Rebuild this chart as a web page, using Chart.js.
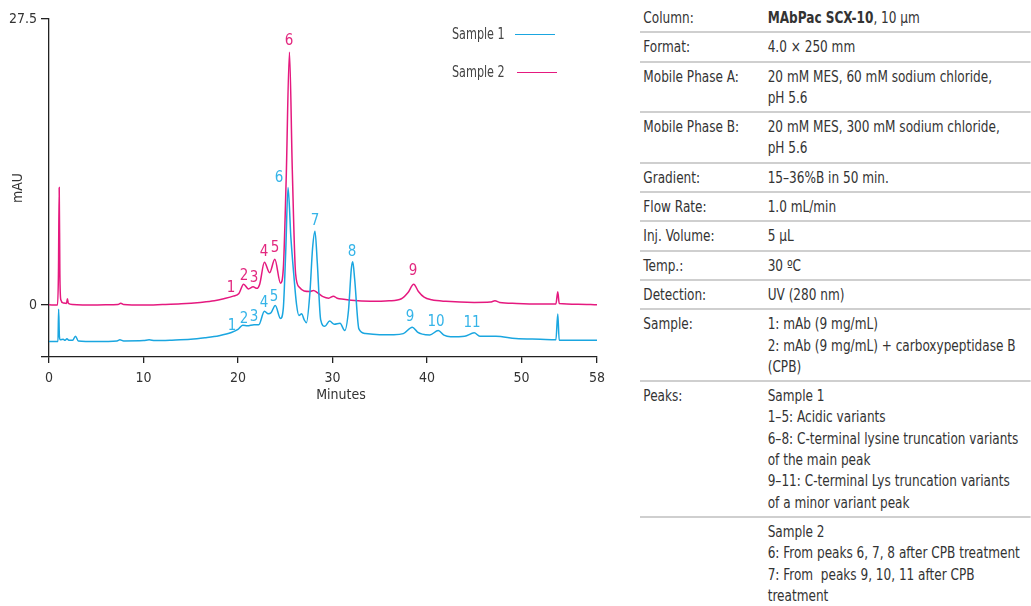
<!DOCTYPE html>
<html>
<head>
<meta charset="utf-8">
<title>MAbPac SCX-10 chromatogram</title>
<script src="https://cdn.jsdelivr.net/npm/chart.js@4.4.0/dist/chart.umd.min.js"></script>
<style>
  body { margin: 0; background: #fff; font-family: "DejaVu Sans Condensed", "DejaVu Sans", sans-serif; color: #333; }
  #wrap { position: relative; width: 1031px; height: 606px; overflow: hidden; }
  #chartBox { position: absolute; left: 0; top: 0; width: 620px; height: 410px; }
  .leg { position: absolute; font-size: 15px; color: #444; transform: scaleX(0.83); transform-origin: 0 0; white-space: nowrap; }
  .legLine { position: absolute; height: 0; border-top: 1.5px solid; }
  #info { position: absolute; left: 640px; top: 4px; width: 465px; font-size: 16px; line-height: 21.3px;
          transform: scaleX(0.84); transform-origin: 0 0; }
  .row { display: flex; padding: 3px 0; border-bottom: 2px solid #cfcfcf; white-space: nowrap; }
  .row:last-child { border-bottom: none; }
  .k { width: 148px; padding-left: 4px; flex: none; }
  .v { flex: 1; }
</style>
</head>
<body>
<div id="wrap">
  <div id="chartBox"><canvas id="chrom" width="620" height="410"></canvas></div>

  <div class="leg" style="left:452px; top:25px;">Sample 1</div>
  <div class="legLine" style="left:515px; top:34px; width:40px; border-color:#1aa6e0;"></div>
  <div class="leg" style="left:452px; top:63px;">Sample 2</div>
  <div class="legLine" style="left:517px; top:72px; width:40px; border-color:#e5197f;"></div>

  <div id="info">
    <div class="row"><div class="k">Column:</div><div class="v"><b>MAbPac SCX-10</b>, 10 µm</div></div>
    <div class="row"><div class="k">Format:</div><div class="v">4.0 × 250 mm</div></div>
    <div class="row"><div class="k">Mobile Phase A:</div><div class="v">20 mM MES, 60 mM sodium chloride,<br>pH 5.6</div></div>
    <div class="row"><div class="k">Mobile Phase B:</div><div class="v">20 mM MES, 300 mM sodium chloride,<br>pH 5.6</div></div>
    <div class="row"><div class="k">Gradient:</div><div class="v">15–36%B in 50 min.</div></div>
    <div class="row"><div class="k">Flow Rate:</div><div class="v">1.0 mL/min</div></div>
    <div class="row"><div class="k">Inj. Volume:</div><div class="v">5 µL</div></div>
    <div class="row"><div class="k">Temp.:</div><div class="v">30 ºC</div></div>
    <div class="row"><div class="k">Detection:</div><div class="v">UV (280 nm)</div></div>
    <div class="row"><div class="k">Sample:</div><div class="v">1: mAb (9 mg/mL)<br>2: mAb (9 mg/mL) + carboxypeptidase B<br>(CPB)</div></div>
    <div class="row"><div class="k">Peaks:</div><div class="v">Sample 1<br>1–5: Acidic variants<br>6–8: C-terminal lysine truncation variants<br>of the main peak<br>9–11: C-terminal Lys truncation variants<br>of a minor variant peak</div></div>
    <div class="row"><div class="k"></div><div class="v">Sample 2<br>6: From peaks 6, 7, 8 after CPB treatment<br>7: From&nbsp; peaks 9, 10, 11 after CPB<br>treatment</div></div>
  </div>
</div>

<script>
// Sample 1 trace (minutes, mAU)
var minutes1 = [0, 0.95, 1.02, 1.1, 1.2, 1.5, 1.7, 1.9, 2.1, 2.5, 2.8, 3.1, 5, 7.2, 7.5, 7.9, 10, 10.6, 11.2, 13, 15, 16.5, 18, 19.3, 20.0, 20.5, 21.0, 21.7, 22.2, 22.8, 23.2, 23.5, 23.95, 24.5, 24.8, 25.05, 25.3, 25.6, 25.9, 26.2, 26.45, 26.75, 27.0, 27.25, 27.6, 27.9, 28.15, 28.4, 28.75, 29.2, 29.7, 30.2, 30.8, 31.3, 31.7, 32.0, 32.15, 32.35, 32.8, 33.5, 35, 36.5, 37.5, 38.45, 39.0, 39.5, 40.3, 41.2, 41.8, 42.5, 44, 45.0, 45.6, 47.3, 49.4, 52, 53.65, 53.85, 54.0, 56, 58];
var mau1 = [-3.5, -3.5, -0.4, -3.0, -3.35, -3.3, -3.4, -3.25, -3.4, -3.4, -3.0, -3.45, -3.5, -3.45, -3.35, -3.45, -3.42, -3.35, -3.42, -3.38, -3.3, -3.15, -2.95, -2.65, -2.35, -1.95, -2.0, -1.9, -1.9, -0.6, -0.85, -0.75, -0.05, -1.3, -0.3, 5, 11.3, 6.5, 3.0, 0.05, -1.0, -0.85, -1.4, -1.7, 1, 5.5, 7.1, 4, -1.4, -2.05, -1.55, -1.85, -1.75, -2.45, -0.5, 3.5, 4.15, 2.5, -2.3, -2.75, -2.85, -2.85, -2.75, -2.13, -2.6, -2.8, -2.88, -2.45, -2.9, -3.05, -3.0, -2.68, -3.0, -3.0, -3.22, -3.3, -3.35, -0.86, -3.4, -3.4, -3.4];

// Sample 2 trace (minutes, mAU)
var minutes2 = [0, 0.9, 1.0, 1.08, 1.15, 1.25, 1.5, 1.85, 1.95, 2.05, 2.5, 4, 6, 7.3, 7.6, 7.9, 10, 12, 14, 16, 17.5, 18.5, 19.5, 20.1, 20.6, 21.1, 21.6, 22.0, 22.3, 22.8, 23.35, 23.9, 24.5, 24.8, 25.1, 25.45, 25.75, 26.1, 26.5, 27.0, 27.6, 28.0, 28.4, 29.0, 29.6, 30.1, 30.5, 31.2, 32, 34, 36, 37.3, 38.0, 38.6, 39.1, 39.7, 40.5, 42, 45, 46.7, 47.2, 47.7, 49.5, 52, 53.65, 53.85, 54.0, 56, 58];
var mau2 = [0.02, 0.0, 3, 11.3, 3, 0.5, 0.2, 0.15, 0.6, 0.15, 0.05, 0.0, 0.02, 0.05, 0.18, 0.05, 0.0, 0.05, 0.12, 0.25, 0.4, 0.6, 0.85, 1.1, 2.0, 1.55, 1.75, 1.6, 2.0, 4.1, 3.1, 4.4, 2.1, 3.5, 12, 24.3, 13, 3.0, 1.7, 1.35, 1.3, 1.4, 1.2, 0.8, 0.65, 0.85, 0.65, 0.55, 0.45, 0.35, 0.4, 0.6, 1.2, 2.0, 1.3, 0.75, 0.5, 0.35, 0.25, 0.28, 0.4, 0.25, 0.15, 0.1, 0.1, 1.27, 0.15, 0.08, 0.03];

// peak numbers, anchored in data units
var peakNames1 = ['1', '2', '3', '4', '5', '6', '7', '8', '9', '10', '11'];
var peakMin1 = [19.37, 20.64, 21.7, 22.76, 23.81, 24.34, 28.15, 32.07, 38.2, 40.96, 44.77];
var peakMau1 = [-2.03, -1.35, -1.16, 0.19, 0.77, 12.16, 8.1, 5.11, -1.16, -1.64, -1.74];
var peakNames2 = ['1', '2', '3', '4', '5', '6', '9'];
var peakMin2 = [19.26, 20.64, 21.7, 22.76, 23.92, 25.4, 38.53];
var peakMau2 = [1.64, 2.8, 2.6, 5.11, 5.5, 25.4, 3.28];

var xTicks = [0, 10, 20, 30, 40, 50, 58];
var yTicks = [-5, 0, 27.5];

var cyan = '#1aa6e0', magenta = '#e5197f';
var FONT = '"DejaVu Sans Condensed", "DejaVu Sans", sans-serif';

function pts(xs, ys) {
  return xs.map(function (x, i) { return { x: x, y: ys[i] }; });
}

// peak numbers and the (slightly off-centre) x-axis title
var peakLabels = {
  id: 'peakLabels',
  afterDatasetsDraw: function (chart) {
    var ctx = chart.ctx, xs = chart.scales.x, ys = chart.scales.y, a = chart.chartArea;
    ctx.save();
    ctx.font = '15px ' + FONT;
    ctx.textAlign = 'center';
    ctx.textBaseline = 'middle';
    ctx.fillStyle = '#35b4e8';
    peakNames1.forEach(function (n, i) {
      ctx.fillText(n, xs.getPixelForValue(peakMin1[i]), ys.getPixelForValue(peakMau1[i]));
    });
    ctx.fillStyle = '#e2287f';
    peakNames2.forEach(function (n, i) {
      ctx.fillText(n, xs.getPixelForValue(peakMin2[i]), ys.getPixelForValue(peakMau2[i]));
    });
    ctx.fillStyle = '#333';
    ctx.font = '14px ' + FONT;
    ctx.fillText('Minutes', (a.left + a.right) / 2 + 18, a.bottom + 38);
    ctx.restore();
  }
};

new Chart(document.getElementById('chrom'), {
  type: 'line',
  data: {
    datasets: [
      { label: 'Sample 1', data: pts(minutes1, mau1), borderColor: cyan, borderWidth: 1.5, pointRadius: 0, cubicInterpolationMode: 'monotone' },
      { label: 'Sample 2', data: pts(minutes2, mau2), borderColor: magenta, borderWidth: 1.5, pointRadius: 0, cubicInterpolationMode: 'monotone' }
    ]
  },
  options: {
    responsive: false,
    animation: false,
    devicePixelRatio: 1,
    layout: { padding: { top: 19, right: 23, left: 0, bottom: 0 } },
    plugins: { legend: { display: false }, tooltip: { enabled: false } },
    scales: {
      x: {
        type: 'linear', min: 0, max: 58,
        afterBuildTicks: function (s) { s.ticks = xTicks.map(function (v) { return { value: v }; }); },
        afterFit: function (s) { s.height = 53; },
        border: { color: '#222', width: 1.3 },
        grid: { drawOnChartArea: false, tickLength: 6, color: '#222', lineWidth: 1.3 },
        ticks: { color: '#333', font: { family: FONT, size: 14 }, padding: 7, maxRotation: 0 },
        title: { display: false }
      },
      y: {
        min: -5, max: 27.5,
        afterBuildTicks: function (s) { s.ticks = yTicks.map(function (v) { return { value: v }; }); },
        afterFit: function (s) { s.width = 49; },
        border: { color: '#222', width: 1.3 },
        grid: { drawOnChartArea: false, tickLength: 8, color: '#222', lineWidth: 1.3 },
        ticks: { color: '#333', font: { family: FONT, size: 14 }, padding: 4,
          callback: function (v) { return v === -5 ? '' : String(v); } },
        title: { display: true, text: 'mAU', color: '#333', font: { family: FONT, size: 14 }, padding: { top: 10 } }
      }
    }
  },
  plugins: [peakLabels]
});
</script>
</body>
</html>
